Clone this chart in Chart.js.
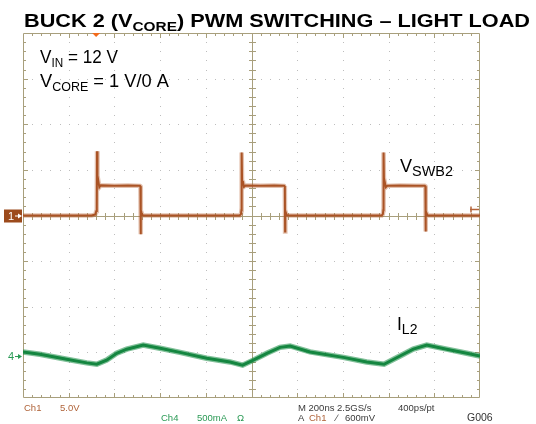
<!DOCTYPE html>
<html>
<head>
<meta charset="utf-8">
<script src="https://cdn.jsdelivr.net/npm/chart.js@4"></script>
<style>
  html, body { margin: 0; padding: 0; background: #ffffff; }
  canvas { display: block; }
</style>
</head>
<body>
<canvas id="scope" width="536" height="424"></canvas>
<script>
// Screen is 10 x 8 divisions, time in ns (200 ns/div), traces in divisions
const timeMin = -1000;
const timeMax = 1000;
const divMin = -4;
const divMax = 4;

// Ch1: V(SWB2) switch node, 5 V/div, ground at centre line
const ch1Time = [-1000, -900, -800, -700, -684, -679, -677, -676, -674, -671, -666, -660, -600, -540, -488, -486, -485, -484, -481, -476, -400, -300, -200, -100, -52, -46, -44, -43, -41, -38, -33, -26, 40, 100, 143, 146, 147, 148, 151, 156, 250, 350, 450, 540, 570, 575, 577, 578, 580, 583, 588, 594, 650, 720, 758, 761, 762, 763, 766, 771, 850, 950, 1000];
const ch1Div = [0, 0, 0, 0, 0.02, 0.1, 0.14, 1.41, 0.7, 0.78, 0.62, 0.66, 0.65, 0.66, 0.65, 0.64, -0.41, 0.12, 0.06, 0, 0, 0, 0, 0, 0, 0.03, 0.12, 1.38, 0.68, 0.76, 0.63, 0.66, 0.65, 0.66, 0.65, 0.64, -0.35, 0.1, 0.05, 0, 0, 0, 0, 0, 0, 0.03, 0.12, 1.38, 0.66, 0.74, 0.62, 0.65, 0.66, 0.65, 0.65, 0.64, -0.35, 0.1, 0.05, 0, 0, 0, 0];

// Ch4: I(L2) inductor current, 500 mA/div
const ch4Time = [-1000, -926, -809, -721, -677, -634, -590, -546, -474, -400, -313, -196, -94, -39, 8, 67, 125, 169, 256, 402, 504, 580, 650, 708, 767, 854, 942, 1000];
const ch4Div = [-2.99, -3.04, -3.15, -3.23, -3.26, -3.17, -3.02, -2.93, -2.84, -2.91, -3.0, -3.13, -3.21, -3.28, -3.17, -3.02, -2.89, -2.86, -2.99, -3.11, -3.21, -3.26, -3.08, -2.93, -2.84, -2.93, -3.02, -3.08];

const ch1Points = ch1Time.map((t, i) => ({ x: t, y: ch1Div[i] }));
const ch4Points = ch4Time.map((t, i) => ({ x: t, y: ch4Div[i] }));

const gridColor = '#a89f7c';
const dotColor = '#bdbdbd';
const ch1Color = '#a0491a';
const ch4Color = '#0f7f3a';
const sans = '"Liberation Sans", Arial, sans-serif';

// Draws a run of text pieces (some as subscripts), squeezed to a given width
function drawParts(ctx, x, y, parts, width) {
  let total = 0;
  parts.forEach(p => {
    ctx.font = p.font;
    total += ctx.measureText(p.text).width;
  });
  const sx = width ? width / total : 1;
  ctx.save();
  ctx.translate(x, y);
  ctx.scale(sx, 1);
  let cx = 0;
  parts.forEach(p => {
    ctx.font = p.font;
    ctx.fillStyle = p.color || '#000000';
    ctx.fillText(p.text, cx, p.dy || 0);
    cx += ctx.measureText(p.text).width;
  });
  ctx.restore();
}

// Oscilloscope graticule: dotted divisions, border ticks, centre cross
const graticule = {
  id: 'graticule',
  beforeDatasetsDraw(chart) {
    const ctx = chart.ctx;
    const xs = chart.scales.x;
    const ys = chart.scales.y;
    const left = Math.round(xs.left), right = Math.round(xs.right);
    const top = Math.round(ys.top), bottom = Math.round(ys.bottom);
    const stepX = (timeMax - timeMin) / 50;
    const stepY = (divMax - divMin) / 40;
    const cx = Math.round(xs.getPixelForValue(0));
    const cy = Math.round(ys.getPixelForValue(0));

    ctx.save();
    ctx.fillStyle = dotColor;
    for (let i = 1; i < 10; i++) {
      if (i === 5) continue;
      const px = Math.round(xs.getPixelForValue(timeMin + i * 200));
      for (let j = 1; j < 40; j++) {
        ctx.fillRect(px, Math.round(ys.getPixelForValue(divMin + j * stepY)), 1, 1);
      }
    }
    for (let k = 1; k < 8; k++) {
      if (k === 4) continue;
      const py = Math.round(ys.getPixelForValue(divMin + k));
      for (let j = 1; j < 50; j++) {
        ctx.fillRect(Math.round(xs.getPixelForValue(timeMin + j * stepX)), py, 1, 1);
      }
    }

    ctx.strokeStyle = gridColor;
    ctx.lineWidth = 1;
    ctx.beginPath();
    ctx.rect(left + 0.5, top + 0.5, right - left - 1, bottom - top - 1);
    ctx.moveTo(cx + 0.5, top);
    ctx.lineTo(cx + 0.5, bottom);
    ctx.moveTo(left, cy + 0.5);
    ctx.lineTo(right, cy + 0.5);

    // ticks along top/bottom border and horizontal centre line
    for (let j = 1; j < 50; j++) {
      const px = Math.round(xs.getPixelForValue(timeMin + j * stepX)) + 0.5;
      const len = j % 5 === 0 ? 5 : 3;
      ctx.moveTo(px, top);
      ctx.lineTo(px, top + len);
      ctx.moveTo(px, bottom);
      ctx.lineTo(px, bottom - len);
      ctx.moveTo(px, cy - 3);
      ctx.lineTo(px, cy + 4);
    }
    // ticks along left/right border and vertical centre line
    for (let j = 1; j < 40; j++) {
      const py = Math.round(ys.getPixelForValue(divMin + j * stepY)) + 0.5;
      const len = j % 5 === 0 ? 5 : 3;
      ctx.moveTo(left, py);
      ctx.lineTo(left + len, py);
      ctx.moveTo(right, py);
      ctx.lineTo(right - len, py);
      ctx.moveTo(cx - 3, py);
      ctx.lineTo(cx + 4, py);
    }
    ctx.stroke();
    ctx.restore();
  },
  afterDatasetsDraw(chart) {
    const ctx = chart.ctx;
    const xs = chart.scales.x;
    const ys = chart.scales.y;
    const top = ys.top;
    ctx.save();
    ctx.textBaseline = 'alphabetic';

    // title
    drawParts(ctx, 24, 27, [
      { text: 'BUCK 2 (V', font: 'bold 19px ' + sans },
      { text: 'CORE', font: 'bold 13.5px ' + sans, dy: 3.5 },
      { text: ') PWM SWITCHING \u2013 LIGHT LOAD', font: 'bold 19px ' + sans }
    ], 506);

    // conditions
    drawParts(ctx, 40, 63, [
      { text: 'V', font: '19px ' + sans },
      { text: 'IN', font: '13px ' + sans, dy: 3.5 },
      { text: ' = 12 V', font: '19px ' + sans }
    ], 78);
    drawParts(ctx, 40, 87, [
      { text: 'V', font: '19px ' + sans },
      { text: 'CORE', font: '13px ' + sans, dy: 3.5 },
      { text: ' = 1 V/0 A', font: '19px ' + sans }
    ], 129);

    // trace labels
    drawParts(ctx, 400, 172, [
      { text: 'V', font: '17.5px ' + sans },
      { text: 'SWB2', font: '14px ' + sans, dy: 4 }
    ], 53);
    drawParts(ctx, 397, 330, [
      { text: 'I', font: '17.5px ' + sans },
      { text: 'L2', font: '14px ' + sans, dy: 4 }
    ]);

    // trigger position marker
    const tx = xs.getPixelForValue(-680);
    ctx.fillStyle = '#f26a1b';
    ctx.beginPath();
    ctx.moveTo(tx - 4, top);
    ctx.lineTo(tx + 4, top);
    ctx.lineTo(tx, top + 4);
    ctx.closePath();
    ctx.fill();

    // channel 1 ground marker
    const g1 = ys.getPixelForValue(0);
    ctx.fillStyle = '#9c4a1c';
    ctx.fillRect(4, g1 - 6, 18, 13);
    ctx.fillStyle = '#ffffff';
    ctx.font = '11px ' + sans;
    ctx.fillText('1', 8, g1 + 4);
    ctx.fillRect(15, g1, 5, 1);
    ctx.beginPath();
    ctx.moveTo(22, g1 + 0.5);
    ctx.lineTo(18, g1 - 2);
    ctx.lineTo(18, g1 + 3);
    ctx.fill();

    // channel 1 trigger level marker
    const lv = g1 - 6;
    ctx.strokeStyle = '#b5643a';
    ctx.lineWidth = 1.5;
    ctx.beginPath();
    ctx.moveTo(470, lv);
    ctx.lineTo(479, lv);
    ctx.moveTo(471, lv - 3);
    ctx.lineTo(471, lv + 3);
    ctx.stroke();

    // channel 4 ground marker
    const g4 = ys.getPixelForValue(-3.08);
    ctx.fillStyle = '#2a9a55';
    ctx.font = '11px ' + sans;
    ctx.fillText('4', 8, g4 + 4);
    ctx.fillRect(15, g4, 5, 1);
    ctx.beginPath();
    ctx.moveTo(22, g4 + 0.5);
    ctx.lineTo(18, g4 - 2);
    ctx.lineTo(18, g4 + 3);
    ctx.fill();

    // scope readout
    ctx.font = '9.5px ' + sans;
    ctx.fillStyle = '#b0643a';
    ctx.fillText('Ch1', 24, 411);
    ctx.fillText('5.0V', 60, 411);
    ctx.fillStyle = '#2a9a55';
    ctx.fillText('Ch4', 161, 421);
    ctx.fillText('500mA', 197, 421);
    ctx.fillText('\u03a9', 237, 421);
    ctx.fillStyle = '#3a3a3a';
    ctx.fillText('M 200ns 2.5GS/s', 298, 411);
    ctx.fillText('400ps/pt', 398, 411);
    ctx.fillText('A', 298, 421);
    ctx.fillText('\u2215', 336, 421);
    ctx.fillText('600mV', 345, 421);
    ctx.fillStyle = '#b0643a';
    ctx.fillText('Ch1', 309, 421);
    ctx.fillStyle = '#333333';
    ctx.font = '10.5px ' + sans;
    ctx.fillText('G006', 467, 421);
    ctx.restore();
  }
};

const ctx = document.getElementById('scope').getContext('2d');

new Chart(ctx, {
  type: 'line',
  data: {
    datasets: [
      {
        label: 'I(L2) noise',
        data: ch4Points,
        borderColor: 'rgba(25, 140, 70, 0.55)',
        borderWidth: 5.5,
        pointRadius: 0,
        tension: 0
      },
      {
        label: 'I(L2)',
        data: ch4Points,
        borderColor: ch4Color,
        borderWidth: 3,
        pointRadius: 0,
        tension: 0
      },
      {
        label: 'V(SWB2) noise',
        data: ch1Points,
        borderColor: 'rgba(185, 100, 55, 0.4)',
        borderWidth: 4.5,
        pointRadius: 0,
        tension: 0
      },
      {
        label: 'V(SWB2)',
        data: ch1Points,
        borderColor: ch1Color,
        borderWidth: 2,
        pointRadius: 0,
        tension: 0
      }
    ]
  },
  options: {
    responsive: false,
    animation: false,
    devicePixelRatio: 1,
    layout: {
      padding: { left: 23, right: 56, top: 33, bottom: 26 }
    },
    plugins: {
      legend: { display: false },
      title: { display: false },
      tooltip: { enabled: false }
    },
    scales: {
      x: { type: 'linear', min: timeMin, max: timeMax, display: false },
      y: { type: 'linear', min: divMin, max: divMax, display: false }
    }
  },
  plugins: [graticule]
});
</script>
</body>
</html>
